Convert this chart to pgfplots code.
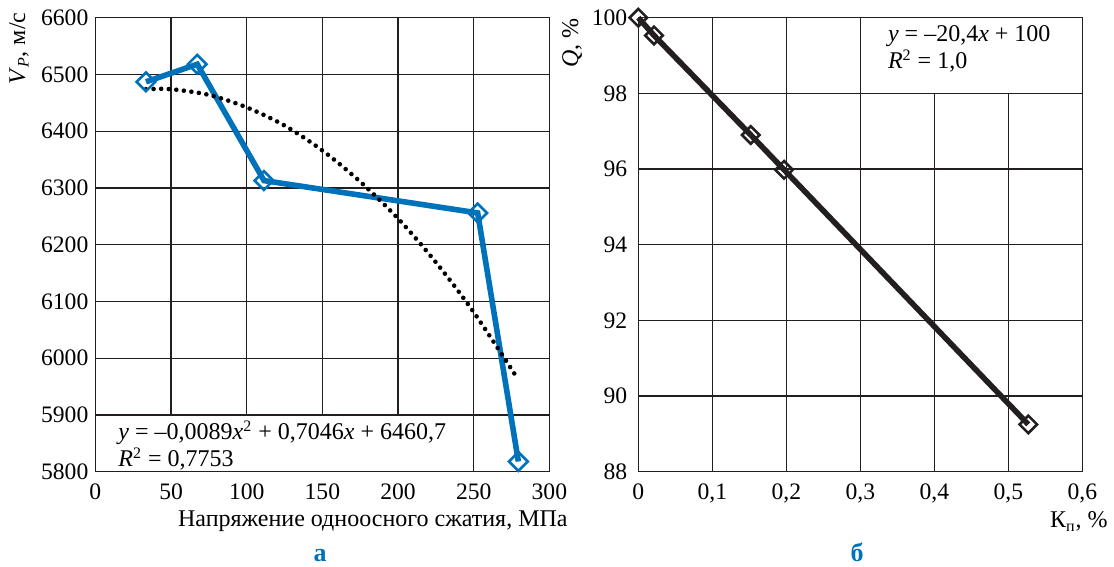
\documentclass[border=0pt]{standalone}
\usepackage{fontspec}
\setmainfont{Liberation Serif}
\usepackage{pgfplots}
\pgfplotsset{compat=1.18}
\definecolor{plotBlue}{RGB}{0,114,188}
\definecolor{gridDark}{RGB}{35,31,32}

\pgfplotsset{panel/.style={
  scale only axis, height=227pt,
  axis line style={draw=gridDark, line width=0.7pt},
  grid=major, grid style={draw=gridDark, line width=0.6pt},
  major tick length=0pt,
  tick label style={font=\fontsize{11.8}{13}\selectfont},
  xticklabel style={yshift=-2.5pt},
  /pgf/number format/assume math mode=true,
  clip=false,
}}

\begin{document}
\begin{tikzpicture}[font=\fontsize{12}{13.5}\selectfont]
\path[use as bounding box] (-47.7pt,-47.65pt) rectangle (509.3pt,235.85pt);

% panel a
\begin{axis}[panel, width=227pt,
  xmin=0, xmax=300, ymin=5800, ymax=6600,
  xtick={0,50,100,150,200,250,300},
  ytick={5800,5900,6000,6100,6200,6300,6400,6500,6600},
  /pgf/number format/1000 sep={}]
\draw[gridDark, line width=0.7pt, fill=white] (axis cs:0,5800) rectangle (axis cs:250,5900);
\addplot[plotBlue, line width=2.8pt, mark=square,
  mark options={fill=white, line width=1.3pt, rotate=45}, mark size=3.3pt]
  coordinates {(33.4,6487) (67.3,6518) (111.4,6313) (252.6,6256) (279.5,5818)};
\addplot[black, line width=2.3pt, line cap=round, dash pattern=on 0pt off 3.8pt, smooth]
  coordinates {(33.4,6474) (50,6474) (75,6464) (100,6442) (125,6410) (150,6366)
  (175,6311) (200,6246) (225,6169) (250,6081) (279.5,5962)};
\node[anchor=west, align=left, inner sep=0pt] at (axis cs:15,5846)
  {\textit{y} = –0,0089\textit{x}\textsuperscript{2} + 0,7046\textit{x} + 6460,7\\
   \textit{R}\textsuperscript{2} = 0,7753};
\end{axis}

% panel b
\begin{axis}[panel, at={(271.45pt,0pt)}, width=222pt,
  xmin=0, xmax=0.6, ymin=88, ymax=100,
  xtick={0,0.1,0.2,0.3,0.4,0.5,0.6},
  ytick={88,90,92,94,96,98,100},
  yticklabel style={xshift=-2pt},
  /pgf/number format/use comma]
\draw[gridDark, line width=0.7pt, fill=white] (axis cs:0.3,98) rectangle (axis cs:0.6,100);
\addplot[gridDark, line width=2.8pt, mark=square,
  mark options={fill=white, line width=1.3pt, rotate=45}, mark size=3.1pt]
  coordinates {(0,100) (0.0213,99.53) (0.152,96.9) (0.197,95.98) (0.527,89.25)};
\node[anchor=west, align=left, inner sep=0pt] at (axis cs:0.337,99.17)
  {\textit{y} = –20,4\textit{x} + 100\\
   \textit{R}\textsuperscript{2} = 1,0};
\end{axis}

% labels
\node[rotate=90, anchor=east, inner sep=0pt] at (-38.2pt,229.8pt)
  {\textit{V}\textsubscript{\textit{P}}, м/с};
\node[rotate=90, anchor=east, inner sep=0pt] at (238.3pt,226.8pt)
  {\textit{Q}, \%};
\node[anchor=base east, inner sep=0pt] at (236.3pt,-27.6pt)
  {Напряжение одноосного сжатия, МПа};
\node[anchor=base east, inner sep=0pt] at (506.3pt,-28.1pt)
  {К\textsubscript{п}, \%};
\node[anchor=base, inner sep=0pt, text=plotBlue, font=\fontsize{13}{15}\selectfont\bfseries]
  at (112.3pt,-45pt) {а};
\node[anchor=base, inner sep=0pt, text=plotBlue, font=\fontsize{13}{15}\selectfont\bfseries]
  at (380.8pt,-45pt) {б};
\end{tikzpicture}
\end{document}
